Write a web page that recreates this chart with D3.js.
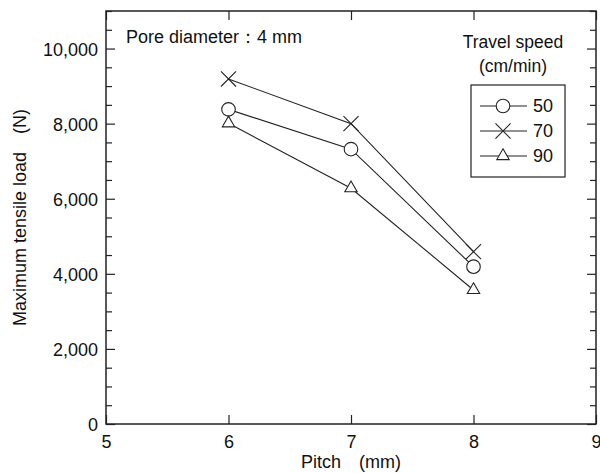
<!DOCTYPE html>
<html>
<head>
<meta charset="utf-8">
<script src="https://cdn.jsdelivr.net/npm/d3@7"></script>
<style>
  body { margin: 0; background: #fff; }
  svg { font-family: "Liberation Sans", Arial, sans-serif; }
  .axis path { display: none; }
  .axis line { stroke: #222; stroke-width: 1.2; }
  .axis text { font-size: 18px; fill: #111; }
</style>
</head>
<body>
<svg id="chart" width="600" height="473"></svg>
<script>
const width = 600;
const height = 473;
const margin = { top: 11, right: 4, bottom: 49, left: 106 };

// Data
const pitch = [6, 7, 8];
const speeds = ["50", "70", "90"];
const load50 = [8380, 7320, 4190];
const load70 = [9190, 8000, 4590];
const load90 = [8010, 6280, 3570];
const yMajor = [0, 2000, 4000, 6000, 8000, 10000];
const xMajor = [5, 6, 7, 8, 9];

const series = [
  { name: speeds[0], values: load50, symbol: "circle" },
  { name: speeds[1], values: load70, symbol: "cross" },
  { name: speeds[2], values: load90, symbol: "triangle" },
];

const svg = d3.select("#chart");
const plotW = width - margin.left - margin.right;
const plotH = height - margin.top - margin.bottom;
const g = svg.append("g").attr("transform", `translate(${margin.left},${margin.top})`);

const x = d3.scaleLinear().domain([5, 9]).range([0, plotW]);
const y = d3.scaleLinear().domain([0, 11000]).range([plotH, 0]);

const yMinor = d3.range(0, 11001, 500).filter((v) => v % 2000 !== 0);

// Axes (ticks pointing inward)
g.append("g").attr("class", "axis")
  .call(d3.axisLeft(y).tickValues(yMajor).tickSize(-9).tickPadding(8).tickFormat(d3.format(",")))
  .selectAll("text").attr("dy", "0.36em");
g.append("g").attr("class", "axis")
  .call(d3.axisLeft(y).tickValues(yMinor).tickSize(-6).tickFormat(""));
g.append("g").attr("class", "axis").attr("transform", `translate(${plotW},0)`)
  .call(d3.axisRight(y).tickValues(yMajor).tickSize(-9).tickFormat(""));
g.append("g").attr("class", "axis").attr("transform", `translate(${plotW},0)`)
  .call(d3.axisRight(y).tickValues(yMinor).tickSize(-6).tickFormat(""));
g.append("g").attr("class", "axis").attr("transform", `translate(0,${plotH})`)
  .call(d3.axisBottom(x).tickValues(xMajor).tickSize(-9).tickPadding(11).tickFormat(d3.format("d")));
g.append("g").attr("class", "axis")
  .call(d3.axisTop(x).tickValues(xMajor).tickSize(-9).tickFormat(""));

// Frame
g.append("rect")
  .attr("width", plotW).attr("height", plotH)
  .attr("fill", "none").attr("stroke", "#222").attr("stroke-width", 1.5);

// Axis titles
svg.append("text")
  .attr("x", margin.left + x(7)).attr("y", 468)
  .attr("text-anchor", "middle").attr("font-size", 18).attr("fill", "#111")
  .text("Pitch\u3000(mm)");
svg.append("text")
  .attr("transform", `translate(26,${margin.top + y(5500)}) rotate(-90)`)
  .attr("text-anchor", "middle").attr("font-size", 18).attr("fill", "#111")
  .text("Maximum tensile load\u3000(N)");

// Annotation
g.append("text")
  .attr("x", 20).attr("y", 32)
  .attr("font-size", 18).attr("fill", "#111")
  .text("Pore diameter\uFF1A4 mm");

// Markers
const sym = {
  circle: d3.symbol().type(d3.symbolCircle).size(145),
  cross: d3.symbol().type(d3.symbolX).size(150),
  triangle: d3.symbol().type(d3.symbolTriangle2).size(110),
};

const line = d3.line()
  .x((d, i) => x(pitch[i]))
  .y((d) => y(d));

series.forEach((s) => {
  g.append("path")
    .datum(s.values)
    .attr("d", line)
    .attr("fill", "none")
    .attr("stroke", "#222")
    .attr("stroke-width", 1.1);

  g.selectAll(null)
    .data(s.values)
    .enter()
    .append("path")
    .attr("transform", (d, i) => `translate(${x(pitch[i])},${y(d)})`)
    .attr("d", sym[s.symbol]())
    .attr("fill", s.symbol === "cross" ? "none" : "#fff")
    .attr("stroke", "#222")
    .attr("stroke-width", 1.1);
});

// Legend
const lg = svg.append("g");
lg.append("text").attr("x", 513).attr("y", 48)
  .attr("text-anchor", "middle").attr("font-size", 17.5).attr("fill", "#111")
  .text("Travel speed");
lg.append("text").attr("x", 513).attr("y", 72)
  .attr("text-anchor", "middle").attr("font-size", 17.5).attr("fill", "#111")
  .text("(cm/min)");
lg.append("rect")
  .attr("x", 471).attr("y", 85).attr("width", 94).attr("height", 92)
  .attr("fill", "#fff").attr("stroke", "#222").attr("stroke-width", 1.2);

const row = lg.selectAll("g.row")
  .data(series)
  .enter()
  .append("g")
  .attr("class", "row")
  .attr("transform", (d, i) => `translate(0,${106 + i * 25})`);
row.append("line")
  .attr("x1", 480).attr("x2", 527)
  .attr("stroke", "#222").attr("stroke-width", 1.1);
row.append("path")
  .attr("transform", "translate(503,0)")
  .attr("d", (d) => sym[d.symbol]())
  .attr("fill", (d) => (d.symbol === "cross" ? "none" : "#fff"))
  .attr("stroke", "#222").attr("stroke-width", 1.1);
row.append("text")
  .attr("x", 533).attr("dy", "0.36em")
  .attr("font-size", 18).attr("fill", "#111")
  .text((d) => d.name);
</script>
</body>
</html>
